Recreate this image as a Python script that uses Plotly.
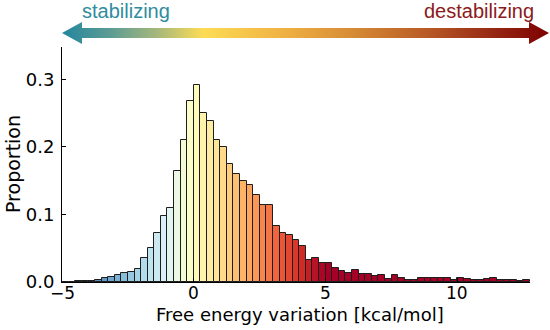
import numpy as np
import plotly.graph_objects as go

# ---- data ----
bin_start = -5.0
bin_width = 0.25
proportion = [
    0.0003, 0.0005, 0.0008, 0.0010, 0.0015, 0.0025, 0.0060, 0.0070, 0.0100, 0.0140,
    0.0155, 0.0190, 0.0350, 0.0510, 0.0730, 0.0980, 0.1100, 0.1640, 0.2100, 0.2680,
    0.2920, 0.2500, 0.2380, 0.2100, 0.2000, 0.1750, 0.1600, 0.1490, 0.1440, 0.1290,
    0.1140, 0.1140, 0.0830, 0.0730, 0.0700, 0.0620, 0.0530, 0.0320, 0.0350, 0.0280,
    0.0280, 0.0200, 0.0160, 0.0140, 0.0180, 0.0125, 0.0115, 0.0088, 0.0100, 0.0050,
    0.0100, 0.0063, 0.0037, 0.0027, 0.0062, 0.0062, 0.0058, 0.0054, 0.0054, 0.0035,
    0.0064, 0.0045, 0.0025, 0.0035, 0.0045, 0.0064, 0.0035, 0.0025, 0.0025, 0.0015,
    0.0025,
]
x_ticks = [-5, 0, 5, 10]
x_tick_labels = ["\u22125", "0", "5", "10"]
y_ticks = [0.0, 0.1, 0.2, 0.3]
x_title = "Free energy variation [kcal/mol]"
y_title = "Proportion"
left_label = "stabilizing"
right_label = "destabilizing"

n = len(proportion)
centers = bin_start + bin_width * (np.arange(n) + 0.5)

# RdYlBu reversed colour map, normalised over [-5, 5]
rdylbu_r = ["#313695", "#4575b4", "#74add1", "#abd9e9", "#e0f3f8", "#ffffbf",
            "#fee090", "#fdae61", "#f46d43", "#d73027", "#a50026"]

def hex2rgb(h):
    h = h.lstrip('#')
    return np.array([int(h[i:i+2], 16) for i in (0, 2, 4)], dtype=float)

stops = np.array([hex2rgb(c) for c in rdylbu_r])

def cmap(t):
    t = min(max(t, 0.0), 1.0)
    pos = t * (len(stops) - 1)
    i = int(np.floor(pos))
    if i >= len(stops) - 1:
        c = stops[-1]
    else:
        f = pos - i
        c = stops[i] * (1 - f) + stops[i + 1] * f
    return "rgb(%d,%d,%d)" % tuple(np.round(c).astype(int))

bar_colors = [cmap((c + 5.0) / 10.0) for c in centers]

W, H = 550, 330
def fx(px):
    return px / W
def fy(py):
    return (H - py) / H

px_left, px_right, px_top, px_bottom = 62, 530, 47, 282

fig = go.Figure()
fig.add_trace(go.Bar(
    x=centers, y=proportion, width=bin_width,
    marker=dict(color=bar_colors, line=dict(color="#1e1e1e", width=1)),
    showlegend=False, hoverinfo="skip",
))

# decorative double arrow (screen-pixel overlay)
ay, shaft, head, hl = 33, 5, 11, 20
ax0, ax1 = 62, 549
arrow_x = [ax0, ax0 + hl, ax0 + hl, ax1 - hl, ax1 - hl, ax1, ax1 - hl, ax1 - hl, ax0 + hl, ax0 + hl, ax0]
arrow_y = [ay, ay - head, ay - shaft, ay - shaft, ay - head, ay, ay + head, ay + shaft, ay + shaft, ay + head, ay]
arrow_scale = [[0.0, "#23869e"], [0.1, "#5d9c93"], [0.2, "#a9b97a"], [0.29, "#fddc55"],
               [0.45, "#f0b343"], [0.6, "#d68a35"], [0.75, "#b85a25"], [0.88, "#982a15"],
               [1.0, "#7d0000"]]
fig.add_trace(go.Scatter(
    x=arrow_x, y=arrow_y, mode="lines", fill="toself",
    fillgradient=dict(type="horizontal", colorscale=arrow_scale),
    line=dict(width=0), xaxis="x2", yaxis="y2", showlegend=False, hoverinfo="skip",
))

font = "DejaVu Sans"

annotations = [
    dict(text=left_label, xref="paper", yref="paper", x=fx(80), y=fy(11),
         xanchor="left", yanchor="middle", showarrow=False,
         font=dict(family="Liberation Sans", size=20, color="#2f8c9e")),
    dict(text=right_label, xref="paper", yref="paper", x=fx(536), y=fy(11),
         xanchor="right", yanchor="middle", showarrow=False,
         font=dict(family="Liberation Sans", size=20, color="#8c1a1a")),
    dict(text=x_title, xref="paper", yref="paper", x=fx(300), y=fy(314),
         xanchor="center", yanchor="middle", showarrow=False,
         font=dict(family=font, size=18, color="black")),
    dict(text=y_title, xref="paper", yref="paper", x=fx(13), y=fy(164),
         xanchor="center", yanchor="middle", showarrow=False, textangle=-90,
         font=dict(family=font, size=19, color="black")),
]
# x tick labels placed just under the axis line
for v, lab in zip(x_ticks, x_tick_labels):
    annotations.append(dict(text=lab, xref="x", yref="paper", x=v, y=fy(293),
                            xanchor="center", yanchor="middle", showarrow=False,
                            font=dict(family=font, size=17, color="black")))

fig.update_layout(
    width=W, height=H,
    margin=dict(l=0, r=0, t=0, b=0),
    paper_bgcolor="white", plot_bgcolor="rgba(0,0,0,0)",
    bargap=0,
    font=dict(family=font, size=18, color="black"),
    xaxis=dict(
        domain=[fx(px_left), fx(px_right)],
        range=[bin_start, bin_start + bin_width * n],
        tickvals=x_ticks, ticks="inside", ticklen=4, tickcolor="black",
        showticklabels=False,
        showline=True, linecolor="black", linewidth=1,
        showgrid=False, zeroline=False, automargin=False,
    ),
    yaxis=dict(
        domain=[fy(px_bottom), fy(px_top)],
        range=[0, 0.348],
        tickvals=y_ticks, tickformat=".1f", ticks="inside", ticklen=4, tickcolor="black",
        showline=True, linecolor="black", linewidth=1,
        showgrid=False, zeroline=False, automargin=False,
        tickfont=dict(size=18), ticklabelstandoff=3,
    ),
    xaxis2=dict(domain=[0, 1], range=[0, W], visible=False, fixedrange=True),
    yaxis2=dict(domain=[0, 1], range=[H, 0], visible=False, fixedrange=True),
    annotations=annotations,
)

fig.write_html("out.html", config={"displayModeBar": False},
               post_script="document.body.style.margin='0px';")
